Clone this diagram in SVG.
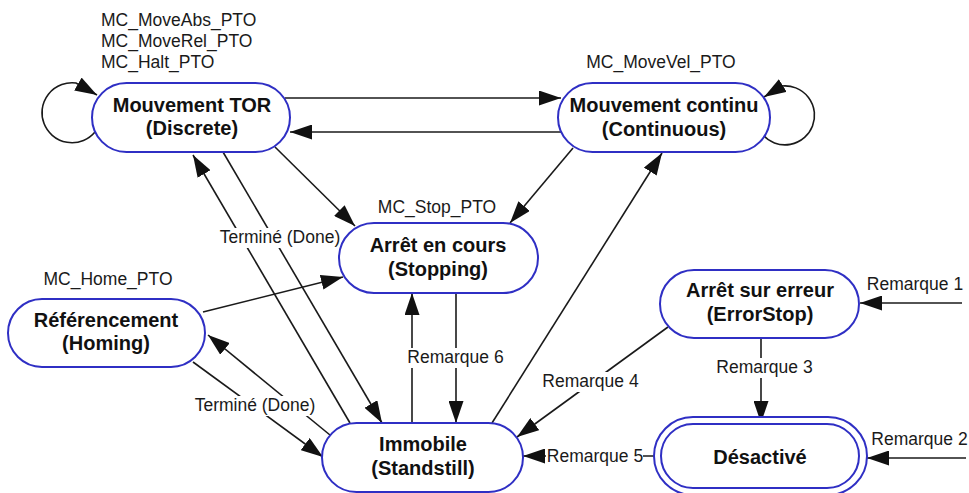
<svg xmlns="http://www.w3.org/2000/svg" width="969" height="493" viewBox="0 0 969 493">
  <style>
    .state { fill: #ffffff; stroke: #2f2fc4; stroke-width: 2; }
    .name { font-family: "Liberation Sans", Arial, sans-serif; font-size: 20px; font-weight: bold; fill: #111111; text-anchor: middle; }
    .lbl { font-family: "Liberation Sans", Arial, sans-serif; font-size: 17.5px; fill: #1a1a1a; }
    .mid { text-anchor: middle; }
    .edge { fill: none; stroke: #1a1a1a; stroke-width: 1.6; }
    .arrow { marker-end: url(#head); }
    .gap { fill: #ffffff; }
  </style>
  <defs>
    <marker id="head" markerUnits="userSpaceOnUse" viewBox="0 0 22 15" markerWidth="22" markerHeight="15" refX="22" refY="7.5" orient="auto">
      <path d="M0,0 L22,7.5 L0,15 z" fill="#111111"/>
    </marker>
  </defs>

  <rect width="969" height="493" fill="#ffffff"/>

  <!-- transitions -->
  <g id="connectors">
    <path class="edge arrow" d="M285,98 L561,98"/>
    <path class="edge arrow" d="M563,132 L290,132"/>
    <path class="edge arrow" d="M95,132 A30,30 0 1 1 76,83 L97,95"/>
    <path class="edge arrow" d="M763,135 A29.5,29.5 0 1 0 782,86 L764,97"/>
    <path class="edge arrow" d="M275,147 L355,226"/>
    <path class="edge arrow" d="M573,148 L510,223"/>
    <path class="edge arrow" d="M492,423 L662,153"/>
    <path class="edge arrow" d="M350,423 L193,155"/>
    <path class="edge arrow" d="M223,152 L382,423"/>
    <path class="edge arrow" d="M330,435 L208,335"/>
    <path class="edge arrow" d="M193,362 L323,457"/>
    <path class="edge arrow" d="M203,312 L343,277"/>
    <path class="edge arrow" d="M412,423 L412,293"/>
    <path class="edge arrow" d="M456,293 L456,423"/>
    <path class="edge arrow" d="M668,327 L517,437"/>
    <path class="edge arrow" d="M761,338 L761,423"/>
    <path class="edge arrow" d="M962,303 L860,303"/>
    <path class="edge arrow" d="M966,458 L867,458"/>
    <path class="edge arrow" d="M659,456 L523,456"/>

    <!-- label backings that interrupt the lines -->
    <rect class="gap" x="217" y="228" width="126" height="20"/>
    <rect class="gap" x="192" y="396" width="126" height="20"/>
    <rect class="gap" x="405" y="348" width="101" height="20"/>
    <rect class="gap" x="541" y="372" width="99" height="20"/>
    <rect class="gap" x="715" y="358" width="99" height="20"/>
    <rect class="gap" x="546" y="447" width="97" height="20"/>

    <text class="lbl" x="101" y="25.5">MC_MoveAbs_PTO</text>
    <text class="lbl" x="101" y="46.5">MC_MoveRel_PTO</text>
    <text class="lbl" x="101" y="67.5">MC_Halt_PTO</text>
    <text class="lbl mid" x="661" y="68">MC_MoveVel_PTO</text>
    <text class="lbl mid" x="437" y="213">MC_Stop_PTO</text>
    <text class="lbl mid" x="108" y="285">MC_Home_PTO</text>
    <text class="lbl mid" x="280" y="243">Terminé (Done)</text>
    <text class="lbl mid" x="255" y="411">Terminé (Done)</text>
    <text class="lbl mid" x="455.5" y="363">Remarque 6</text>
    <text class="lbl mid" x="590.5" y="387">Remarque 4</text>
    <text class="lbl mid" x="764.5" y="373">Remarque 3</text>
    <text class="lbl mid" x="915" y="290">Remarque 1</text>
    <text class="lbl mid" x="919.5" y="445">Remarque 2</text>
    <text class="lbl mid" x="595" y="462">Remarque 5</text>
  </g>

  <!-- states -->
  <g id="discrete">
    <rect class="state" x="92" y="83" width="198" height="69" rx="34.5"/>
    <text class="name" x="192" y="112">Mouvement TOR</text>
    <text class="name" x="192" y="135">(Discrete)</text>
  </g>
  <g id="continuous">
    <rect class="state" x="558" y="83" width="212" height="69" rx="34.5"/>
    <text class="name" x="664" y="112">Mouvement continu</text>
    <text class="name" x="664" y="136">(Continuous)</text>
  </g>
  <g id="stopping">
    <rect class="state" x="339" y="223" width="199" height="70" rx="35"/>
    <text class="name" x="438" y="252">Arrêt en cours</text>
    <text class="name" x="438" y="276">(Stopping)</text>
  </g>
  <g id="homing">
    <rect class="state" x="8" y="299" width="197" height="68" rx="34"/>
    <text class="name" x="106" y="327">Référencement</text>
    <text class="name" x="106" y="350">(Homing)</text>
  </g>
  <g id="errorstop">
    <rect class="state" x="660" y="270" width="199" height="68" rx="34"/>
    <text class="name" x="760" y="297">Arrêt sur erreur</text>
    <text class="name" x="760" y="321">(ErrorStop)</text>
  </g>
  <g id="standstill">
    <rect class="state" x="322" y="423" width="201" height="69" rx="34.5"/>
    <text class="name" x="423" y="451">Immobile</text>
    <text class="name" x="423" y="475">(Standstill)</text>
  </g>
  <g id="disabled">
    <rect class="state" x="654" y="417" width="213" height="78" rx="39"/>
    <rect class="state" x="661" y="424" width="198" height="64" rx="32"/>
    <text class="name" x="760" y="464">Désactivé</text>
  </g>
</svg>
